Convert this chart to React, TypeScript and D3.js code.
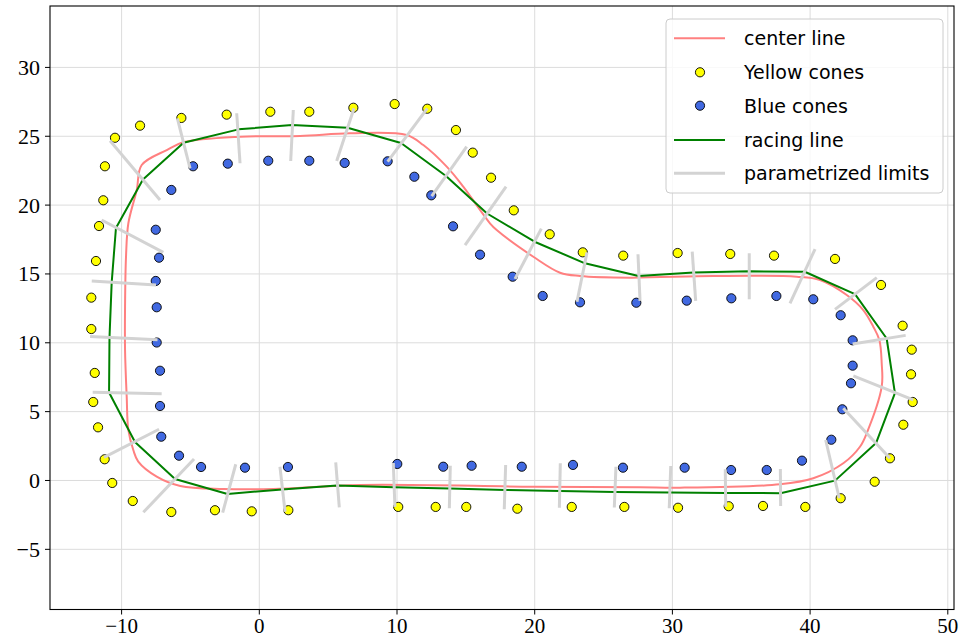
import React from "react";
import * as d3 from "d3";

// ---------- data ----------
const xTicks = [-10, 0, 10, 20, 30, 40, 50];
const yTicks = [-5, 0, 5, 10, 15, 20, 25, 30];

const centerX = [-5.74, -2.61, 1.02, 7.31, 19.88, 27.65, 30.55, 37.81, 40.23, 42.41, 43.62, 44.11, 45.2, 45.2, 45.03, 44.59, 43.86, 42.66, 40.72, 39.03, 32.97, 26.92, 23.29, 21.84, 19.9, 17.24, 16.75, 14.81, 13.61, 11.91, 10.7, 6.59, 2.96, -1.4, -5.52, -6.72, -8.54, -8.9, -9.51, -9.68, -9.75, -9.75, -9.63, -9.51, -9.15, -8.79, -7.45];
const centerY = [-0.4, -0.62, -0.62, -0.33, -0.45, -0.49, -0.52, -0.28, 0.16, 1.25, 2.45, 3.43, 6.81, 8.51, 10.2, 11.17, 12.38, 13.47, 14.56, 14.8, 14.85, 14.73, 14.85, 15.09, 16.25, 18.19, 18.68, 21.34, 22.79, 24.36, 25.09, 25.21, 25.02, 24.97, 24.56, 24.0, 22.91, 21.1, 18.68, 16.25, 12.62, 9.48, 6.09, 3.67, 2.21, 1.37, 0.28];

const yellowX = [10.09, 12.81, 15.03, 18.74, 22.69, 26.51, 30.41, 34.09, 36.58, 39.65, 42.22, 44.69, 45.8, 46.77, 47.45, 47.33, 47.38, 46.72, 45.15, 41.81, 37.38, 34.2, 30.38, 26.43, 23.49, 21.09, 18.48, 16.83, 15.5, 14.28, 12.2, 9.83, 6.83, 3.63, 0.8, -2.37, -5.66, -8.66, -10.48, -11.21, -11.33, -11.64, -11.86, -12.2, -12.2, -11.95, -12.06, -11.71, -11.23, -10.68, -9.19, -6.39, -3.22, -0.55, 2.11];
const yellowY = [-1.92, -1.92, -1.92, -2.05, -1.92, -1.92, -1.98, -1.87, -1.85, -1.92, -1.29, -0.09, 1.61, 4.05, 5.7, 7.71, 9.5, 11.24, 14.2, 16.09, 16.33, 16.45, 16.52, 16.33, 16.57, 17.88, 19.62, 21.99, 23.81, 25.45, 27.0, 27.34, 27.07, 26.78, 26.78, 26.57, 26.33, 25.77, 24.89, 22.82, 20.35, 18.48, 15.94, 13.28, 11.0, 7.81, 5.7, 3.86, 1.54, -0.18, -1.49, -2.29, -2.16, -2.24, -2.16];

const blueX = [10.02, 13.36, 15.42, 19.06, 22.78, 26.41, 30.89, 34.26, 36.85, 39.41, 41.54, 42.34, 42.97, 43.09, 43.09, 42.22, 40.23, 37.55, 34.28, 31.04, 27.38, 23.29, 20.58, 18.4, 16.03, 14.07, 12.49, 11.26, 9.32, 6.2, 3.63, 0.65, -2.29, -4.81, -6.39, -7.52, -7.28, -7.52, -7.45, -7.45, -7.21, -7.21, -7.12, -5.83, -4.23, -1.04, 2.08];
const blueY = [1.2, 1.0, 1.07, 1.0, 1.13, 0.93, 0.93, 0.76, 0.76, 1.44, 2.96, 5.17, 7.06, 8.34, 10.18, 12.0, 13.16, 13.4, 13.23, 13.06, 12.91, 12.94, 13.4, 14.8, 16.4, 18.46, 20.71, 22.06, 23.18, 23.06, 23.22, 23.22, 23.01, 22.82, 21.1, 18.21, 16.18, 14.49, 12.58, 10.02, 7.97, 5.41, 3.18, 1.8, 0.98, 0.93, 0.98];

const racingX = [-9.03, -6.12, -2.31, 1.65, 5.64, 9.78, 13.85, 17.84, 21.84, 25.83, 29.82, 33.86, 37.85, 41.81, 44.79, 46.16, 45.56, 43.26, 39.61, 35.58, 31.53, 27.54, 23.65, 19.99, 16.54, 13.56, 10.29, 6.41, 2.37, -1.51, -5.5, -8.45, -10.41, -10.72, -10.88, -10.91];
const racingY = [2.8, 0.11, -0.98, -0.65, -0.36, -0.49, -0.58, -0.69, -0.76, -0.84, -0.87, -0.91, -0.92, -0.01, 2.72, 6.35, 10.31, 13.54, 15.16, 15.19, 15.11, 14.85, 15.77, 17.34, 19.39, 22.11, 24.51, 25.62, 25.82, 25.5, 24.53, 21.86, 18.34, 14.39, 10.38, 6.39];

const limInnerX = [-7.28, -4.74, -1.71, 1.5, 5.55, 9.73, 13.87, 17.89, 21.86, 25.9, 29.88, 33.84, 37.84, 41.13, 42.41, 43.14, 43.09, 41.81, 38.54, 35.58, 31.69, 27.65, 23.07, 18.57, 14.94, 12.52, 9.32, 5.62, 2.28, -1.4, -5.03, -7.21, -6.97, -7.5, -7.39, -7.09];
const limInnerY = [3.72, 1.56, 1.18, 1.0, 1.31, 1.27, 1.07, 1.13, 1.25, 1.0, 1.05, 0.81, 0.84, 2.94, 5.24, 7.59, 9.91, 12.43, 12.87, 13.16, 13.04, 13.04, 12.98, 14.63, 17.1, 20.66, 23.15, 23.2, 23.2, 23.04, 22.67, 20.37, 16.57, 14.2, 10.22, 6.3];
const limOuterX = [-11.28, -8.42, -2.66, 1.87, 5.81, 9.85, 13.8, 17.79, 21.79, 25.78, 29.77, 33.87, 37.86, 42.12, 45.8, 47.49, 46.94, 44.84, 40.36, 35.58, 31.44, 27.5, 23.8, 20.48, 17.92, 15.06, 12.2, 6.88, 2.47, -1.64, -5.95, -10.84, -11.45, -12.17, -12.29, -12.1];
const limOuterY = [1.68, -2.31, -2.34, -2.27, -1.95, -1.92, -2.02, -2.09, -1.98, -1.96, -2.02, -1.9, -1.85, -1.29, 1.61, 5.85, 10.54, 14.73, 16.81, 16.5, 16.62, 16.43, 16.57, 18.29, 21.34, 24.24, 27.03, 27.03, 26.91, 26.67, 26.3, 24.68, 18.92, 14.49, 10.46, 6.41];

const legendLabels = ["center line", "Yellow cones", "Blue cones", "racing line", "parametrized limits"];

// ---------- layout ----------
const W = 961;
const H = 638;
const L = 50, R = 954, T = 6, B = 609.5;

const CENTER_COLOR = "#ff8080";
const RACING_COLOR = "#008000";
const LIMIT_COLOR = "#d3d3d3";
const YELLOW = "#ffff00";
const BLUE = "#4169e1";

export default function App() {
  const x = d3.scaleLinear().domain([-15.2, 50.45]).range([L, R]);
  const y = d3.scaleLinear().domain([-9.37, 34.46]).range([B, T]);

  const centerPts: [number, number][] = centerX.map((v, i) => [v, centerY[i]]);
  const racingPts: [number, number][] = racingX.map((v, i) => [v, racingY[i]]);

  const centerPath = d3
    .line<[number, number]>()
    .x((d) => x(d[0]))
    .y((d) => y(d[1]))
    .curve(d3.curveCatmullRomClosed.alpha(0.5))(centerPts) || "";
  const racingPath = d3
    .line<[number, number]>()
    .x((d) => x(d[0]))
    .y((d) => y(d[1]))
    .curve(d3.curveLinearClosed)(racingPts) || "";

  const tickFont = "'Liberation Serif', 'DejaVu Serif', serif";
  const legendFont = "'DejaVu Sans', sans-serif";

  const legX = 666, legY = 19, legW = 277, legH = 174;
  const rowY = [38.3, 72.3, 105.7, 140, 173.3];

  return (
    <svg
      width={W}
      height={H}
      viewBox={`0 0 ${W} ${H}`}
      style={{ position: "absolute", left: 0, top: 0, display: "block", background: "#fff" }}
    >
      <rect x={0} y={0} width={W} height={H} fill="#fff" />
      <defs>
        <clipPath id="plotclip">
          <rect x={L} y={T} width={R - L} height={B - T} />
        </clipPath>
      </defs>
      {/* grid */}
      <g stroke="#dcdcdc" strokeWidth={1}>
        {xTicks.map((t) => (
          <line key={"gx" + t} x1={x(t)} x2={x(t)} y1={T} y2={B} />
        ))}
        {yTicks.map((t) => (
          <line key={"gy" + t} x1={L} x2={R} y1={y(t)} y2={y(t)} />
        ))}
      </g>

      <g clipPath="url(#plotclip)">
        {/* center line */}
        <path d={centerPath} fill="none" stroke={CENTER_COLOR} strokeWidth={2} />
        {/* yellow cones */}
        {yellowX.map((v, i) => (
          <circle key={"y" + i} cx={x(v)} cy={y(yellowY[i])} r={4.6} fill={YELLOW} stroke="#000" strokeWidth={0.9} />
        ))}
        {/* blue cones */}
        {blueX.map((v, i) => (
          <circle key={"b" + i} cx={x(v)} cy={y(blueY[i])} r={4.6} fill={BLUE} stroke="#000" strokeWidth={0.9} />
        ))}
        {/* racing line */}
        <path d={racingPath} fill="none" stroke={RACING_COLOR} strokeWidth={2} strokeLinejoin="round" />
        {/* parametrized limits */}
        {limInnerX.map((v, i) => (
          <line
            key={"l" + i}
            x1={x(v)}
            y1={y(limInnerY[i])}
            x2={x(limOuterX[i])}
            y2={y(limOuterY[i])}
            stroke={LIMIT_COLOR}
            strokeWidth={3}
          />
        ))}
      </g>

      {/* spines */}
      <rect x={L} y={T} width={R - L} height={B - T} fill="none" stroke="#000" strokeWidth={1.1} />

      {/* x ticks */}
      {xTicks.map((t) => (
        <g key={"xt" + t}>
          <line x1={x(t)} x2={x(t)} y1={B} y2={B + 5} stroke="#000" strokeWidth={1} />
          <text
            x={x(t)}
            y={B + 23.5}
            textAnchor="middle"
            fontFamily={tickFont}
            fontSize={21}
            fill="#000"
          >
            {t < 0 ? "\u2212" + Math.abs(t) : String(t)}
          </text>
        </g>
      ))}
      {/* y ticks */}
      {yTicks.map((t) => (
        <g key={"yt" + t}>
          <line x1={L - 5} x2={L} y1={y(t)} y2={y(t)} stroke="#000" strokeWidth={1} />
          <text
            x={L - 10}
            y={y(t) + 7.5}
            textAnchor="end"
            fontFamily={tickFont}
            fontSize={22}
            fill="#000"
          >
            {t < 0 ? "\u2212" + Math.abs(t) : String(t)}
          </text>
        </g>
      ))}

      {/* legend */}
      <g>
        <rect
          x={legX}
          y={legY}
          width={legW}
          height={legH}
          rx={4}
          ry={4}
          fill="#fff"
          fillOpacity={0.8}
          stroke="#cccccc"
          strokeWidth={1}
        />
        <line x1={674} x2={725} y1={rowY[0]} y2={rowY[0]} stroke={CENTER_COLOR} strokeWidth={2} />
        <circle cx={700} cy={rowY[1]} r={4.6} fill={YELLOW} stroke="#000" strokeWidth={0.9} />
        <circle cx={700} cy={rowY[2]} r={4.6} fill={BLUE} stroke="#000" strokeWidth={0.9} />
        <line x1={674} x2={725} y1={rowY[3]} y2={rowY[3]} stroke={RACING_COLOR} strokeWidth={2} />
        <line x1={674} x2={725} y1={rowY[4]} y2={rowY[4]} stroke={LIMIT_COLOR} strokeWidth={3} />
        {legendLabels.map((lab, i) => (
          <text
            key={lab}
            x={744}
            y={rowY[i] + 7}
            fontFamily={legendFont}
            fontSize={19}
            fill="#000"
          >
            {lab}
          </text>
        ))}
      </g>
    </svg>
  );
}
